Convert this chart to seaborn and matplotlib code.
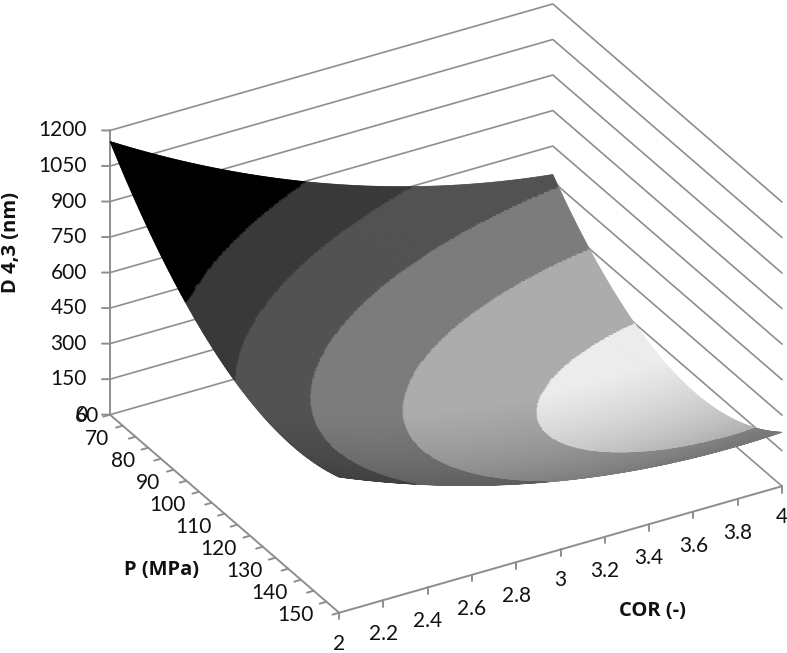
#!/usr/bin/env python
# coding: utf8

""" D 4,3 response surface over COR and P. """

import numpy as np
import seaborn as sns
from matplotlib import pyplot as plt
from mpl_toolkits.mplot3d.proj3d import proj_transform

cor_values = [2.0, 2.2, 2.4, 2.6, 2.8, 3.0, 3.2, 3.4, 3.6, 3.8, 4.0]
p_values = [60, 70, 80, 90, 100, 110, 120, 130, 140, 150]

# one row per pressure
d43_p60 = [1154, 1047, 949, 859, 779, 707, 644, 590, 544, 508, 480]
d43_p70 = [994, 890, 794, 708, 630, 561, 501, 449, 407, 373, 348]
d43_p80 = [858, 757, 664, 581, 506, 440, 383, 334, 295, 264, 242]
d43_p90 = [746, 648, 559, 478, 407, 344, 290, 245, 209, 181, 163]
d43_p100 = [658, 563, 477, 400, 332, 273, 222, 181, 148, 124, 109]
d43_p110 = [593, 502, 420, 347, 282, 227, 180, 142, 112, 92, 81]
d43_p120 = [552, 465, 387, 317, 257, 205, 162, 128, 102, 86, 78]
d43_p130 = [535, 452, 378, 313, 256, 208, 169, 139, 118, 106, 102]
d43_p140 = [542, 463, 393, 333, 280, 237, 202, 176, 159, 151, 152]
d43_p150 = [573, 499, 433, 377, 329, 290, 260, 239, 226, 223, 228]

z_ticks = [0, 150, 300, 450, 600, 750, 900, 1050, 1200]
p_ticks = [60, 70, 80, 90, 100, 110, 120, 130, 140, 150]
p_minor_ticks = [60, 65, 70, 75, 80, 85, 90, 95, 100, 105, 110, 115, 120, 125, 130, 135, 140, 145, 150]
cor_labels = ['2', '2.2', '2.4', '2.6', '2.8', '3', '3.2', '3.4', '3.6', '3.8', '4']

band_edges = [150, 300, 450, 600, 750]
band_greys = ['#ececec', '#acacac', '#7c7c7c', '#525252', '#393939', '#000000']

sns.set_theme(style='white')
plt.rcParams['font.family'] = ['Lato', 'DejaVu Sans']

WIDTH, HEIGHT = 787, 653
AXIS_GREY = '#8e8e8e'

fig = plt.figure(figsize=(WIDTH / 100, HEIGHT / 100), dpi=100)
ax = fig.add_subplot(projection='3d', computed_zorder=False)
ax.set_proj_type('ortho')
ax.view_init(elev=29.8, azim=240.1)
ax.set_box_aspect((511.6, 460.4, 328))
ax.set_xlim(2, 4, view_margin=0)
ax.set_ylim(150, 60, view_margin=0)
ax.set_zlim(0, 1200, view_margin=0)
ax.set_axis_off()


def to_pixels(cor, p, z):
    x, y, _ = proj_transform(cor, p, z, ax.get_proj())
    return ax.transData.transform((x, y))


# put the floor corners where they are in the picture
ax.set_position([0, 0, 1, 1])
ax.apply_aspect()
span = to_pixels(4, 150, 0)[0] - to_pixels(2, 60, 0)[0]
size = ax.bbox.width * (782 - 110) / span
ax.set_position([0, 0, size / WIDTH, size / HEIGHT])
ax.apply_aspect()
shift = np.array([110, HEIGHT - 414.7]) - to_pixels(2, 60, 0)
ax.set_position([shift[0] / WIDTH, shift[1] / HEIGHT, size / WIDTH, size / HEIGHT])
ax.apply_aspect()

# walls
for z in z_ticks:
    ax.plot([2, 4, 4], [60, 60, 150], [z, z, z], color=AXIS_GREY, lw=1.2, zorder=1)

# axes and ticks
ax.plot([2, 2], [60, 60], [0, 1200], color=AXIS_GREY, lw=1.4, zorder=1)
ax.plot([2, 2], [60, 150], [0, 0], color=AXIS_GREY, lw=1.4, zorder=1)
ax.plot([2, 4], [150, 150], [0, 0], color=AXIS_GREY, lw=1.4, zorder=1)
for z in z_ticks:
    ax.plot([2, 1.973], [60, 59.2], [z, z], color=AXIS_GREY, lw=1.4, zorder=1)
for p in p_minor_ticks:
    ax.plot([2, 1.97], [p, p], [0, 0], color=AXIS_GREY, lw=1.4, zorder=1)
for cor in cor_values:
    ax.plot([cor, cor], [150, 150], [0, -28], color=AXIS_GREY, lw=1.4, zorder=1)

# surface, drawn on a finer mesh so the band edges stay smooth
d43 = np.array([d43_p60, d43_p70, d43_p80, d43_p90, d43_p100,
                d43_p110, d43_p120, d43_p130, d43_p140, d43_p150], dtype=float)
cor_fine = np.linspace(2, 4, 320)
p_fine = np.linspace(60, 150, 320)
mesh = np.array([np.polyval(np.polyfit(p_values, col, 3), p_fine) for col in d43.T]).T
mesh = np.array([np.polyval(np.polyfit(cor_values, row, 3), cor_fine) for row in mesh])
cor_mesh, p_mesh = np.meshgrid(cor_fine, p_fine)

greys = np.array(sns.color_palette(band_greys))
colors = greys[np.digitize(mesh, band_edges)]
rise = np.gradient(mesh, p_fine, axis=0) * 90
shade = 1 - 0.3 * np.clip((rise + 300) / 1000, 0, 1)
colors = np.dstack([colors * shade[..., None], np.ones(mesh.shape)])
surf = ax.plot_surface(cor_mesh, p_mesh, mesh, facecolors=colors, rstride=1, cstride=1,
                       shade=False, zorder=5)
# same colour on the edges, otherwise the facets leave seams
surf.set_edgecolor(colors[:-1, :-1].reshape(-1, 4))
surf.set_linewidth(0.5)


def tick_label(text, cor, p, z, dx, dy, ha):
    x, y, _ = proj_transform(cor, p, z, ax.get_proj())
    ax.annotate(text, xy=(x, y), xytext=(dx, dy), textcoords='offset pixels',
                ha=ha, va='center', fontsize=15, color='#111111', annotation_clip=False)


for z in z_ticks:
    tick_label(str(z), 2, 60, z, -23, 0, 'right')
for p in p_ticks:
    if p == 60:
        tick_label(str(p), 2, p, 0, -11, -1, 'right')
    else:
        tick_label(str(p), 2, p, 0, -26, -2, 'right')
for cor, label in zip(cor_values, cor_labels):
    tick_label(label, cor, 150, 0, 0, -31 if len(label) == 1 else -34, 'center')

title_font = dict(family='Open Sans', fontsize=14.5, fontweight='bold', color='#111111',
                  ha='center', va='center')
fig.text(11 / WIDTH, 1 - 242 / HEIGHT, 'D 4,3 (nm)', rotation=90, **title_font)
fig.text(162 / WIDTH, 1 - 570 / HEIGHT, 'P (MPa)', **title_font)
fig.text(652 / WIDTH, 1 - 611 / HEIGHT, 'COR (-)', **title_font)

plt.savefig('out.png', dpi=100)
plt.close()
